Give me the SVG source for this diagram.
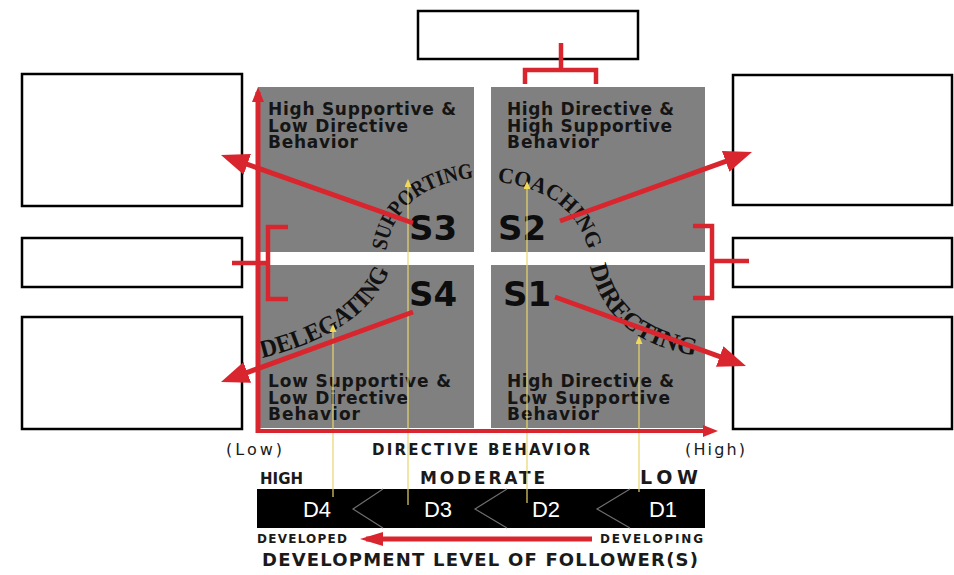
<svg xmlns="http://www.w3.org/2000/svg" width="954" height="575" viewBox="0 0 954 575">
<style>
.box{fill:#fff;stroke:#000;stroke-width:2.5}
.quad{fill:#808080}
.qt{font-family:"DejaVu Sans",sans-serif;font-weight:bold;font-size:17px;fill:#151515}
.sl{font-family:"DejaVu Sans",sans-serif;font-weight:bold;font-size:34px;fill:#0d0d0d}
.arc{font-family:"Liberation Serif",serif;font-weight:bold;fill:#111}
.red{stroke:#d9262e;fill:none}
.yel{stroke:#e8d56a;stroke-width:1.2;fill:none}
.lab{font-family:"DejaVu Sans",sans-serif;fill:#1a1a1a}
.dl{font-family:"Liberation Sans",sans-serif;font-size:22px;fill:#fff}
.chev{stroke:#6e6e6e;stroke-width:1.2;fill:none}
</style>
<defs>
<marker id="redHead" markerUnits="userSpaceOnUse" markerWidth="28" markerHeight="22" refX="20" refY="11" orient="auto"><path d="M0,0 L28,11 L0,22 z" fill="#d9262e"/></marker>
<marker id="axisHead" markerUnits="userSpaceOnUse" markerWidth="15" markerHeight="12" refX="10" refY="6" orient="auto"><path d="M0,0 L15,6 L0,12 z" fill="#d9262e"/></marker>
<marker id="devHead" markerUnits="userSpaceOnUse" markerWidth="23" markerHeight="14" refX="17" refY="7" orient="auto"><path d="M0,0 L23,7 L0,14 z" fill="#d9262e"/></marker>
<marker id="yelHead" markerUnits="userSpaceOnUse" markerWidth="8" markerHeight="7" refX="5" refY="3.5" orient="auto"><path d="M0,0 L8,3.5 L0,7 z" fill="#f0d85a"/></marker>
<path id="pSup" d="M386 251 Q396 188 472 178"/>
<path id="pCoa" d="M497 182 Q572 190 589 251"/>
<path id="pDel" d="M262 358 Q368 332 390 268"/>
<path id="pDir" d="M590 266 Q607 342 698 356"/>
</defs>
<rect width="954" height="575" fill="#fff"/>

<g id="quadrant-s3">
<rect class="quad" x="258" y="87" width="216" height="165"/>
<text class="qt" x="268" y="115" textLength="188">High Supportive &amp;</text>
<text class="qt" x="268" y="132" textLength="140">Low Directive</text>
<text class="qt" x="268" y="148" textLength="90">Behavior</text>
<text class="arc" font-size="22"><textPath href="#pSup" textLength="124" lengthAdjust="spacingAndGlyphs">SUPPORTING</textPath></text>
<text class="sl" x="409" y="240">S3</text>
</g>
<g id="quadrant-s2">
<rect class="quad" x="491" y="87" width="214" height="165"/>
<text class="qt" x="507" y="115" textLength="167">High Directive &amp;</text>
<text class="qt" x="507" y="132" textLength="165">High Supportive</text>
<text class="qt" x="507" y="148" textLength="92">Behavior</text>
<text class="arc" font-size="22"><textPath href="#pCoa" textLength="122" lengthAdjust="spacingAndGlyphs">COACHING</textPath></text>
<text class="sl" x="498" y="240">S2</text>
</g>
<g id="quadrant-s4">
<rect class="quad" x="258" y="265" width="216" height="163"/>
<text class="qt" x="268" y="387" textLength="183">Low Supportive &amp;</text>
<text class="qt" x="268" y="404" textLength="140">Low Directive</text>
<text class="qt" x="268" y="420" textLength="92">Behavior</text>
<text class="arc" font-size="25"><textPath href="#pDel" textLength="160" lengthAdjust="spacingAndGlyphs">DELEGATING</textPath></text>
<text class="sl" x="409" y="306">S4</text>
</g>
<g id="quadrant-s1">
<rect class="quad" x="491" y="265" width="214" height="163"/>
<text class="qt" x="507" y="387" textLength="167">High Directive &amp;</text>
<text class="qt" x="507" y="404" textLength="163">Low Supportive</text>
<text class="qt" x="507" y="420" textLength="92">Behavior</text>
<text class="arc" font-size="25"><textPath href="#pDir" textLength="148" lengthAdjust="spacingAndGlyphs">DIRECTING</textPath></text>
<text class="sl" x="503" y="306">S1</text>
</g>

<g id="axis-labels">
<text class="lab" x="226" y="455" font-size="16" textLength="56">(Low)</text>
<text class="lab" x="372" y="455" font-size="15" font-weight="bold" textLength="218">DIRECTIVE BEHAVIOR</text>
<text class="lab" x="685" y="455" font-size="16" textLength="60">(High)</text>
<text class="lab" x="260" y="484" font-size="15" font-weight="bold" textLength="43">HIGH</text>
<text class="lab" x="420" y="484" font-size="17" font-weight="bold" textLength="125">MODERATE</text>
<text class="lab" x="640" y="484" font-size="19" font-weight="bold" textLength="58">LOW</text>
</g>

<g id="development-bar">
<rect x="257" y="489" width="448" height="39" fill="#000"/>
<path class="chev" d="M383 489 L353 509 L383 528"/>
<path class="chev" d="M507 489 L475 509 L507 528"/>
<path class="chev" d="M630 489 L597 509 L630 528"/>
<text class="dl" x="317" y="517" text-anchor="middle">D4</text>
<text class="dl" x="438" y="517" text-anchor="middle">D3</text>
<text class="dl" x="546" y="517" text-anchor="middle">D2</text>
<text class="dl" x="663" y="517" text-anchor="middle">D1</text>
<text class="lab" x="257" y="543" font-size="12" font-weight="bold" textLength="90">DEVELOPED</text>
<text class="lab" x="600" y="543" font-size="12" font-weight="bold" textLength="103">DEVELOPING</text>
<text class="lab" x="262" y="566" font-size="18" font-weight="bold" textLength="436">DEVELOPMENT LEVEL OF FOLLOWER(S)</text>
</g>

<g id="box-top"><rect class="box" x="418" y="11" width="220" height="48"/></g>
<g id="box-left-top"><rect class="box" x="22" y="74" width="220" height="132"/></g>
<g id="box-left-mid"><rect class="box" x="22" y="238" width="220" height="49"/></g>
<g id="box-left-bottom"><rect class="box" x="22" y="317" width="220" height="112"/></g>
<g id="box-right-top"><rect class="box" x="733" y="75" width="219" height="130"/></g>
<g id="box-right-mid"><rect class="box" x="733" y="238" width="219" height="49"/></g>
<g id="box-right-bottom"><rect class="box" x="733" y="317" width="219" height="112"/></g>

<g id="connectors">
<path class="yel" d="M333 497 V327" marker-end="url(#yelHead)"/>
<path class="yel" d="M408 505 V182" marker-end="url(#yelHead)"/>
<path class="yel" d="M527 503 V184" marker-end="url(#yelHead)"/>
<path class="yel" d="M639 492 V339" marker-end="url(#yelHead)"/>
<path class="red" stroke-width="5" d="M258 433 V92" marker-end="url(#axisHead)"/>
<path class="red" stroke-width="4" d="M256 431 H713" marker-end="url(#axisHead)"/>
<path class="red" stroke-width="5" d="M592 539 H366" marker-end="url(#devHead)"/>
<path class="red" stroke-width="4.5" d="M561 43 V70 M525 84 V70 H596 V84"/>
<path class="red" stroke-width="4.5" d="M288 227 H268 V299 H288 M232 263 H268"/>
<path class="red" stroke-width="4.5" d="M693 226 H712 V298 H693 M712 261 H749"/>
<path class="red" stroke-width="5" d="M413 223 L228.5 157.7" marker-end="url(#redHead)"/>
<path class="red" stroke-width="5" d="M560 221 L744.5 154.7" marker-end="url(#redHead)"/>
<path class="red" stroke-width="5" d="M413 312 L228.5 379.3" marker-end="url(#redHead)"/>
<path class="red" stroke-width="5" d="M555 297 L738.5 363.3" marker-end="url(#redHead)"/>
</g>
</svg>
